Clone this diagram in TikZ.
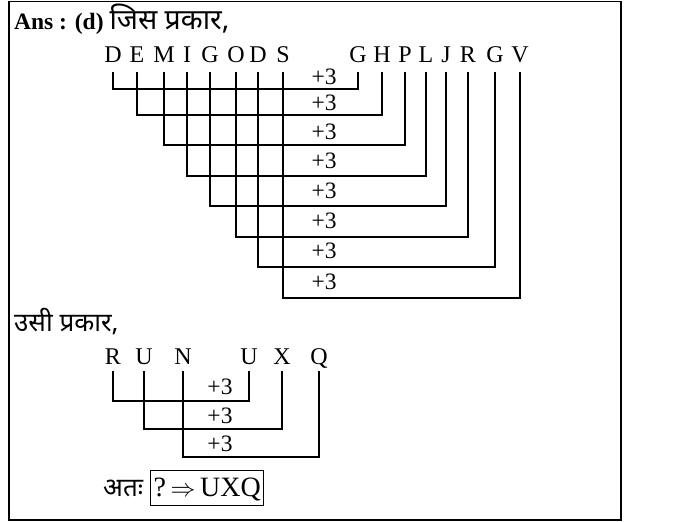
\documentclass[tikz,border=0pt]{standalone}
\usepackage{fontspec}
\setmainfont{Liberation Serif}
\newfontfamily\hindi[Script=Devanagari]{Noto Sans}
\tikzset{ltr/.style={anchor=base, inner sep=0pt, text depth=0pt, outer ysep=9pt,
      font=\fontsize{24}{26}\selectfont}}
\tikzset{plus/.style={anchor=base, inner sep=0pt, font=\fontsize{23.5}{24}\selectfont}}
\tikzset{link/.style={line width=2pt, line join=miter}}

\begin{document}
\begin{tikzpicture}[x=1pt,y=-1pt]
    \useasboundingbox (0,0) rectangle (673,522);
    \draw[line width=1.4pt] (9,1.5) rectangle (621,520);
    \node[anchor=base west, inner sep=0pt, font=\fontsize{23.5}{25}\selectfont] (ans) at (14,30)
      {\textbf{Ans : (d)} {\hindi\fontsize{28.5}{28}\selectfont जिस प्रकार,}};
    % first word and its code
    \node[ltr] (s1) at (113,63) {D};
    \node[ltr] (s2) at (137,63) {E};
    \node[ltr] (s3) at (164,63) {M};
    \node[ltr] (s4) at (187,63) {I};
    \node[ltr] (s5) at (210,63) {G};
    \node[ltr] (s6) at (236,63) {O};
    \node[ltr] (s7) at (258,63) {D};
    \node[ltr] (s8) at (283,63) {S};
    \node[ltr] (t1) at (358,63) {G};
    \node[ltr] (t2) at (382,63) {H};
    \node[ltr] (t3) at (405,63) {P};
    \node[ltr] (t4) at (426,63) {L};
    \node[ltr] (t5) at (446,63) {J};
    \node[ltr] (t6) at (468,63) {R};
    \node[ltr] (t7) at (495,63) {G};
    \node[ltr] (t8) at (520,63) {V};
    \coordinate (h1) at (0,88.5);
    \coordinate (h2) at (0,115);
    \coordinate (h3) at (0,145);
    \coordinate (h4) at (0,175.5);
    \coordinate (h5) at (0,206);
    \coordinate (h6) at (0,237);
    \coordinate (h7) at (0,267);
    \coordinate (h8) at (0,297.5);
    \draw[link] (s1.south) |- (h1 -| t1.south) -- (t1.south);
    \draw[link] (s2.south) |- (h2 -| t2.south) -- (t2.south);
    \draw[link] (s3.south) |- (h3 -| t3.south) -- (t3.south);
    \draw[link] (s4.south) |- (h4 -| t4.south) -- (t4.south);
    \draw[link] (s5.south) |- (h5 -| t5.south) -- (t5.south);
    \draw[link] (s6.south) |- (h6 -| t6.south) -- (t6.south);
    \draw[link] (s7.south) |- (h7 -| t7.south) -- (t7.south);
    \draw[link] (s8.south) |- (h8 -| t8.south) -- (t8.south);
    \node[plus] (p1) at (324,84) {+3};
    \node[plus] (p2) at (324,110) {+3};
    \node[plus] (p3) at (324,139) {+3};
    \node[plus] (p4) at (324,168) {+3};
    \node[plus] (p5) at (324,198.5) {+3};
    \node[plus] (p6) at (324,228.5) {+3};
    \node[plus] (p7) at (324,258.5) {+3};
    \node[plus] (p8) at (324,289) {+3};
    % second word
    \node[anchor=base west, inner sep=0pt, font=\hindi\fontsize{26}{28}\selectfont] (same) at (14,331)
      {उसी प्रकार,};
    \node[ltr, outer ysep=7pt] (a1) at (113,364) {R};
    \node[ltr, outer ysep=7pt] (a2) at (144,364) {U};
    \node[ltr, outer ysep=7pt] (a3) at (183,364) {N};
    \node[ltr, outer ysep=7pt] (b1) at (249,364) {U};
    \node[ltr, outer ysep=7pt] (b2) at (282,364) {X};
    \node[ltr, outer ysep=7pt] (b3) at (319,364) {Q};
    \coordinate (k1) at (0,401);
    \coordinate (k2) at (0,428.5);
    \coordinate (k3) at (0,456.5);
    \draw[link] (a1.south) |- (k1 -| b1.south) -- (b1.south);
    \draw[link] (a2.south) |- (k2 -| b2.south) -- (b2.south);
    \draw[link] (a3.south) |- (k3 -| b3.south) -- (b3.south);
    \node[plus] (q1) at (220,394) {+3};
    \node[plus] (q2) at (220,423) {+3};
    \node[plus] (q3) at (220,451) {+3};
    \node[anchor=base west, inner sep=0pt, font=\hindi\fontsize{26}{28}\selectfont] (hence) at (103,496.5)
      {अतः};
    \node[draw, line width=1pt, anchor=base west, inner xsep=3pt, inner ysep=0pt,
      text height=26pt, text depth=9pt, font=\fontsize{28}{30}\selectfont] (res) at (150,496.5)
      {?\,$\Rightarrow$\,UXQ};
  \end{tikzpicture}
\end{document}
